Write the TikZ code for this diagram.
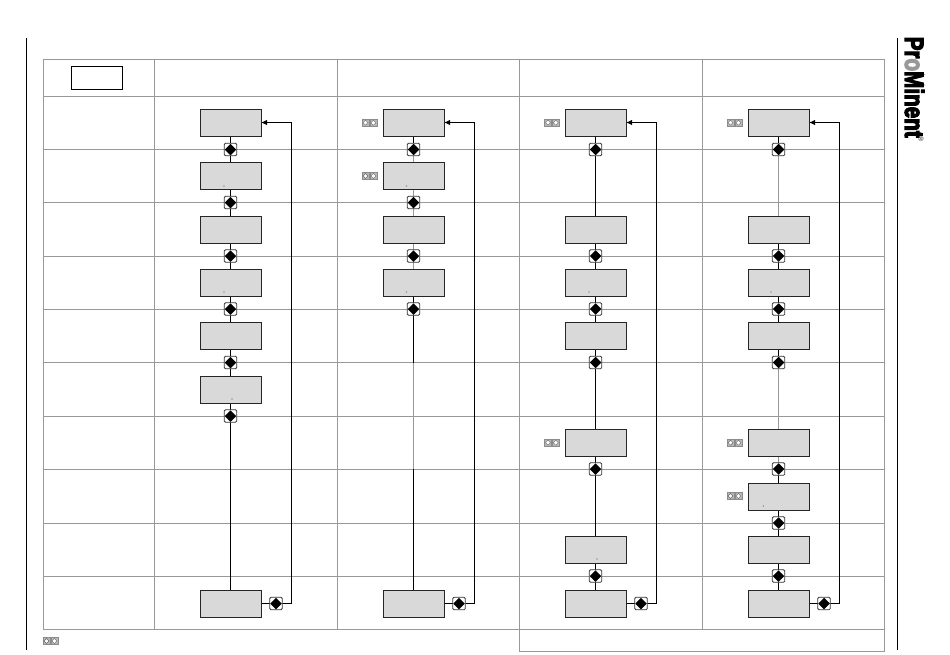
\documentclass[tikz,border=0pt]{standalone}
\usepackage{fontspec}
\setmainfont{Liberation Sans}
\usetikzlibrary{shapes.geometric,arrows.meta,positioning}
\pgfdeclarelayer{grid}
\pgfdeclarelayer{conn}
\pgfsetlayers{grid,conn,main}
\definecolor{gridc}{HTML}{999999}
\definecolor{boxc}{HTML}{D9D9D9}
\definecolor{keyc}{HTML}{B8B8B8}
\tikzset{
  gridline/.style={draw=gridc,line width=1pt},
  rule/.style={draw=black,line width=1pt},
  dispbox/.style={draw=black!85,fill=boxc,line width=1pt,minimum width=61pt,minimum height=27pt,inner sep=0pt,outer sep=0pt},
  headbox/.style={draw=black,fill=white,line width=1pt,minimum width=51pt,minimum height=23pt,inner sep=0pt,outer sep=0pt},
  keybtn/.style={draw=black!80,fill=white,line width=0.8pt,rounded corners=1.2pt,minimum size=12.5pt,inner sep=0pt,outer sep=0pt},
  keymark/.style={diamond,fill=black,minimum size=11.5pt,inner sep=0pt,outer sep=0pt},
  conline/.style={draw=black,line width=1pt},
  greyline/.style={draw=gridc,line width=1.5pt},
  backline/.style={draw=black,line width=1pt,-{Latex[length=6pt,width=5.5pt]}},
  smallkey/.style={draw=black!45,fill=keyc,line width=0.4pt,minimum size=7pt,inner sep=0pt,outer sep=0pt},
  smallcore/.style={diamond,draw=black!60,fill=white,line width=0.4pt,minimum size=5pt,inner sep=0pt,outer sep=0pt},
  dotmark/.style={circle,fill=gridc,minimum size=1.8pt,inner sep=0pt,outer sep=0pt},
}
\newcommand{\keypair}[2]{%
  \node[smallkey] (#1a) at (#2) {};
  \node[smallcore] (#1b) at (#1a) {};
  \node[smallkey,right=0.9pt of #1a] (#1c) {};
  \node[smallcore] (#1d) at (#1c) {};
}
\begin{document}
\begin{tikzpicture}[x=1pt,y=-1pt]
\useasboundingbox (0,0) rectangle (950,654);
% rows and columns
\foreach \n/\y in {1/122.5,2/176,3/229.5,4/282.5,5/335.5,6/389.5,7/442.5,8/496.5,9/549.5,10/603.5}
  \coordinate (r\n) at (0,\y);
\foreach \n/\y in {1/149.5,2/202.5,3/256,4/309,5/362.5,6/416,7/469,8/523,9/576}
  \coordinate (l\n) at (0,\y);
\foreach \n/\x in {1/230.5,2/413.5,3/595.5,4/778.5}
  \coordinate (c\n) at (\x,0);
\begin{pgfonlayer}{grid}
  \draw[gridline] (43.5,59.5) rectangle (884.5,629.5);
  \draw[gridline] (519.5,629.5) -- (519.5,651.5) -- (884.5,651.5) -- (884.5,629.5);
  \foreach \y in {96.5,149.5,202.5,256.5,309.5,362.5,416.5,469.5,523.5,576.5}
    \draw[gridline] (43.5,\y) -- (884.5,\y);
  \foreach \x in {154.5,337.5,519.5,702.5}
    \draw[gridline] (\x,59.5) -- (\x,629.5);
\end{pgfonlayer}
\draw[rule] (26.5,38) -- (26.5,650);
\draw[rule] (897.5,38) -- (897.5,650);
\node[headbox] (head) at (96.5,78) {};
% logo
\node[rotate=-90,anchor=west,inner sep=0pt] (logo) at (914.5,36.5)
  {\bfseries\addfontfeature{FakeBold=5}\fontsize{25}{25}\selectfont\resizebox{101pt}{19pt}{Pr\textcolor{gridc}{o}Minent}};
\node[rotate=-90,inner sep=0pt,text=black!75] (reg) at (921,139.5) {\bfseries\fontsize{7}{7}\selectfont ®};
% boxes
\foreach \n in {1,2,3,4,5,6,10}
  \node[dispbox] (b1x\n) at (c1 |- r\n) {};
\foreach \n in {1,2,3,4,10}
  \node[dispbox] (b2x\n) at (c2 |- r\n) {};
\foreach \n in {1,3,4,5,7,9,10}
  \node[dispbox] (b3x\n) at (c3 |- r\n) {};
\foreach \n in {1,3,4,5,7,8,9,10}
  \node[dispbox] (b4x\n) at (c4 |- r\n) {};
% key buttons
\foreach \c/\list in {1/{1,2,3,4,5,6},2/{1,2,3,4},3/{1,3,4,5,7,9},4/{1,3,4,5,7,8,9}}
  \foreach \n in \list {
    \node[keybtn] (d\c x\n) at (c\c |- l\n) {};
    \node[keymark] (m\c x\n) at (d\c x\n) {};
  }
% bottom-row buttons
\foreach \c in {1,2,3,4} {
  \node[keybtn,right=8.75pt of b\c x10] (e\c) {};
  \node[keymark] (em\c) at (e\c) {};
  \coordinate (t\c) at ([xshift=15.5pt]e\c.center);
}
\begin{pgfonlayer}{conn}
  % column 1
  \foreach \n/\m in {1/2,2/3,3/4,4/5,5/6} {
    \draw[conline] (b1x\n) -- (d1x\n);
    \draw[conline] (d1x\n) -- (b1x\m);
  }
  \draw[conline] (b1x6) -- (d1x6);
  \draw[conline] (d1x6) -- (b1x10);
  % column 2
  \draw[conline] (b2x1) -- (d2x1);
  \draw[greyline] (d2x1) -- (b2x2);
  \foreach \n/\m in {2/3,3/4} {
    \draw[greyline] (b2x\n) -- (d2x\n);
    \draw[greyline] (d2x\n) -- (b2x\m);
  }
  \draw[conline] (b2x4) -- (d2x4);
  \draw[conline] (d2x4) -- (b2x10);
  \coordinate (g2a) at (c2 |- l5);
  \coordinate (g2b) at (c2 |- l7);
  \draw[greyline] (g2a) -- (g2b);
  % column 3
  \draw[conline] (b3x1) -- (d3x1);
  \draw[conline] (d3x1) -- (b3x3);
  \foreach \n/\m in {3/4,4/5} {
    \draw[conline] (b3x\n) -- (d3x\n);
    \draw[conline] (d3x\n) -- (b3x\m);
  }
  \draw[conline] (b3x5) -- (d3x5);
  \draw[conline] (d3x5) -- (b3x7);
  \draw[conline] (b3x7) -- (d3x7);
  \draw[conline] (d3x7) -- (b3x9);
  \draw[conline] (b3x9) -- (d3x9);
  \draw[conline] (d3x9) -- (b3x10);
  % column 4
  \draw[conline] (b4x1) -- (d4x1);
  \draw[greyline] (d4x1) -- (b4x3);
  \foreach \n/\m in {3/4,4/5} {
    \draw[conline] (b4x\n) -- (d4x\n);
    \draw[conline] (d4x\n) -- (b4x\m);
  }
  \draw[conline] (b4x5) -- (d4x5);
  \draw[greyline] (d4x5) -- (b4x7);
  \draw[greyline] (b4x7) -- (d4x7);
  \draw[conline] (d4x7) -- (b4x8);
  \draw[conline] (b4x8) -- (d4x8);
  \draw[conline] (d4x8) -- (b4x9);
  \draw[conline] (b4x9) -- (d4x9);
  \draw[conline] (d4x9) -- (b4x10);
  % return paths
  \foreach \c in {1,2,3,4} {
    \draw[conline] (b\c x10) -- (e\c);
    \draw[backline] (e\c) -| (t\c) |- (b\c x1);
  }
\end{pgfonlayer}
% small key pairs
\keypair{ka}{365.5,122.7}
\keypair{kb}{365.5,176}
\keypair{kc}{548,122.7}
\keypair{kd}{730.5,122.7}
\keypair{ke}{548,442.7}
\keypair{kf}{730.5,442.7}
\keypair{kg}{730.5,496}
\keypair{kh}{46.5,641}
% tiny marks
\foreach \i/\x/\y in {1/224/186,2/224/292,3/232/399,4/406.5/186,5/406.5/292,6/589/292,7/597/559,8/771/292,9/763.5/506}
  \node[dotmark] (dot\i) at (\x,\y) {};
\end{tikzpicture}
\end{document}
